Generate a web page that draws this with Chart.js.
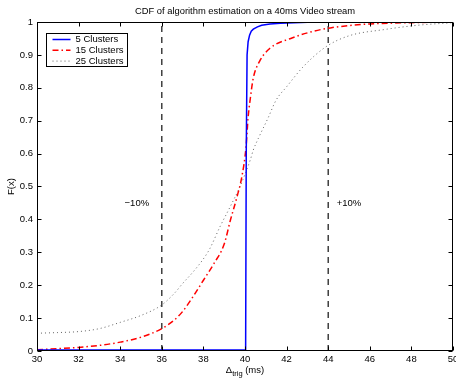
<!DOCTYPE html>
<html>
<head>
<meta charset="utf-8">
<script src="https://cdn.jsdelivr.net/npm/chart.js@4/dist/chart.umd.min.js"></script>
<style>
  html, body { margin: 0; padding: 0; background: #fff; }
</style>
</head>
<body>
<canvas id="cdf" width="456" height="379"></canvas>
<script>
// CDF curves (x in ms, F(x))
const x5  = [30, 40.03, 40.06, 40.1, 40.15, 40.22, 40.3, 40.4, 40.6, 40.8, 41.2, 41.7, 43, 50];
const f5  = [0.003, 0.003, 0.6, 0.9, 0.94, 0.96, 0.972, 0.978, 0.985, 0.99, 0.994, 0.996, 0.999, 1.0];

const x15 = [30, 31, 32, 33, 34, 35, 36, 36.6, 37, 37.5, 38, 38.5, 39, 39.3, 39.6, 39.85, 40.05, 40.15, 40.25, 40.4, 40.7, 41.2, 42.2, 43.3, 44.1, 45, 46, 48, 50];
const f15 = [0.004, 0.007, 0.011, 0.017, 0.027, 0.042, 0.068, 0.094, 0.12, 0.165, 0.215, 0.265, 0.325, 0.398, 0.465, 0.53, 0.62, 0.71, 0.765, 0.83, 0.88, 0.92, 0.95, 0.972, 0.982, 0.989, 0.994, 0.998, 1.0];

const x25 = [30, 31, 32, 33, 34, 35, 36, 36.6, 37, 37.5, 38, 38.3, 38.8, 39.3, 39.76, 40.25, 40.4, 40.64, 41.1, 41.5, 42, 42.8, 43.9, 45, 46.7, 48.3, 50];
const f25 = [0.054, 0.056, 0.059, 0.068, 0.087, 0.108, 0.14, 0.175, 0.205, 0.24, 0.28, 0.31, 0.378, 0.44, 0.5, 0.58, 0.611, 0.646, 0.707, 0.763, 0.803, 0.864, 0.925, 0.958, 0.977, 0.99, 0.998];

const seriesNames = ['5 Clusters', '15 Clusters', '25 Clusters'];
const bounds = [36, 44];               // the +/-10% marks
const boundLabels = ['\u221210%', '+10%'];
const boundLabelX = [34.8, 45.0];
const boundLabelY = 0.45;

const FONT = '"Liberation Sans", Arial, Helvetica, sans-serif';
const FS = 9.5;

const pairs = (xs, ys) => xs.map((x, i) => ({ x: x, y: ys[i] }));

const boundSets = bounds.map((b) => ({
  label: '',
  data: [{ x: b, y: 0 }, { x: b, y: 1 }],
  borderColor: '#222',
  borderWidth: 1.3,
  borderDash: [6, 5],
  pointRadius: 0,
  showLine: true
}));

const matlabLook = {
  id: 'matlabLook',
  afterDatasetsDraw(chart) {
    const ctx = chart.ctx;
    const a = chart.chartArea;
    const xs = chart.scales.x;
    const ys = chart.scales.y;
    ctx.save();

    // box + inward ticks
    ctx.strokeStyle = '#000';
    ctx.lineWidth = 1;
    const L = Math.round(a.left) + 0.5, R = Math.round(a.right) - 0.5;
    const T = Math.round(a.top) + 0.5, B = Math.round(a.bottom) - 0.5;
    ctx.strokeRect(L, T, R - L, B - T);
    ctx.beginPath();
    xs.ticks.forEach((t) => {
      const px = Math.round(xs.getPixelForValue(t.value)) + 0.5;
      ctx.moveTo(px, B); ctx.lineTo(px, B - 4);
      ctx.moveTo(px, T); ctx.lineTo(px, T + 4);
    });
    ys.ticks.forEach((t) => {
      const py = Math.round(ys.getPixelForValue(t.value)) + 0.5;
      ctx.moveTo(L, py); ctx.lineTo(L + 4, py);
      ctx.moveTo(R, py); ctx.lineTo(R - 4, py);
    });
    ctx.stroke();

    // +/-10% labels
    ctx.fillStyle = '#000';
    ctx.font = FS + 'px ' + FONT;
    ctx.textAlign = 'center';
    ctx.textBaseline = 'middle';
    boundLabels.forEach((txt, i) => {
      ctx.fillText(txt, xs.getPixelForValue(boundLabelX[i]), ys.getPixelForValue(boundLabelY));
    });

    // legend box
    const lx = L + 9, ly = T + 11, lw = 81, lh = 33;
    ctx.fillStyle = '#fff';
    ctx.fillRect(lx, ly, lw, lh);
    ctx.strokeStyle = '#000';
    ctx.lineWidth = 1;
    ctx.strokeRect(lx, ly, lw, lh);
    ctx.textAlign = 'left';
    seriesNames.forEach((name, i) => {
      const ds = chart.data.datasets[i];
      const yy = ly + 6 + i * 10.8;
      ctx.beginPath();
      ctx.strokeStyle = ds.borderColor;
      ctx.lineWidth = ds.borderWidth;
      ctx.setLineDash(ds.borderDash || []);
      ctx.moveTo(lx + 6, yy);
      ctx.lineTo(lx + 24, yy);
      ctx.stroke();
      ctx.setLineDash([]);
      ctx.fillStyle = '#000';
      ctx.fillText(name, lx + 29, yy);
    });

    // x axis title with subscript
    const cx = (xs.left + xs.right) / 2;
    const by = 373;
    ctx.textBaseline = 'alphabetic';
    ctx.font = FS + 'px ' + FONT;
    const w1 = ctx.measureText('\u0394').width;
    const w3 = ctx.measureText(' (ms)').width;
    ctx.font = '7.5px ' + FONT;
    const w2 = ctx.measureText('trig').width;
    const sx = cx - (w1 + w2 + w3) / 2;
    ctx.font = FS + 'px ' + FONT;
    ctx.fillText('\u0394', sx, by);
    ctx.font = '7.5px ' + FONT;
    ctx.fillText('trig', sx + w1, by + 3);
    ctx.font = FS + 'px ' + FONT;
    ctx.fillText(' (ms)', sx + w1 + w2, by);

    ctx.restore();
  }
};

new Chart(document.getElementById('cdf'), {
  type: 'scatter',
  data: {
    datasets: [
      {
        label: seriesNames[0],
        data: pairs(x5, f5),
        borderColor: '#0000ff',
        borderWidth: 1.5,
        pointRadius: 0,
        showLine: true
      },
      {
        label: seriesNames[1],
        data: pairs(x15, f15),
        borderColor: '#ff0000',
        borderWidth: 1.5,
        borderDash: [6, 3, 1.5, 3],
        pointRadius: 0,
        showLine: true,
        cubicInterpolationMode: 'monotone'
      },
      {
        label: seriesNames[2],
        data: pairs(x25, f25),
        borderColor: 'rgba(60,60,60,0.8)',
        borderWidth: 1,
        borderDash: [1, 3],
        pointRadius: 0,
        showLine: true,
        cubicInterpolationMode: 'monotone'
      }
    ].concat(boundSets)
  },
  options: {
    responsive: false,
    animation: false,
    devicePixelRatio: 1,
    layout: { autoPadding: false, padding: { left: 0, top: 0, right: 3, bottom: 0 } },
    plugins: {
      legend: { display: false },
      tooltip: { enabled: false },
      title: {
        display: true,
        fullSize: false,
        text: 'CDF of algorithm estimation on a 40ms Video stream',
        color: '#000',
        font: { family: FONT, size: 9.4, weight: 'normal' },
        padding: { top: 6, bottom: 4.7 }
      }
    },
    scales: {
      x: {
        type: 'linear',
        min: 30,
        max: 50,
        grid: { display: false, drawTicks: false, tickLength: 0 },
        border: { display: false },
        ticks: { stepSize: 2, color: '#000', padding: 3, maxRotation: 0, font: { family: FONT, size: FS } },
        afterFit: (s) => { s.height = 28; s.paddingLeft = 0; s.paddingRight = 0; }
      },
      y: {
        min: 0,
        max: 1,
        grid: { display: false, drawTicks: false, tickLength: 0 },
        border: { display: false },
        ticks: {
          stepSize: 0.1,
          color: '#000',
          padding: 4,
          font: { family: FONT, size: FS },
          callback: (v) => (v === 0 || v === 1) ? String(v) : v.toFixed(1)
        },
        title: {
          display: true,
          text: 'F(x)',
          color: '#000',
          font: { family: FONT, size: FS },
          padding: { top: 6, bottom: 0 }
        },
        afterFit: (s) => { s.width = 37; s.paddingTop = 0; s.paddingBottom = 0; }
      }
    }
  },
  plugins: [matlabLook]
});
</script>
</body>
</html>
